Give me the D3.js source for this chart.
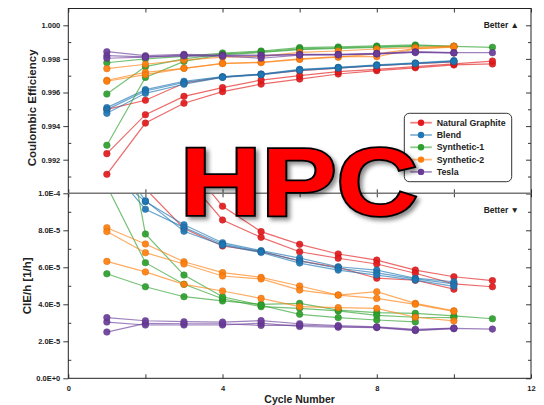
<!DOCTYPE html>
<html>
<head>
<meta charset="utf-8">
<title>Coulombic efficiency and CIE/h</title>
<style>
  body { margin: 0; background: #fff; }
  svg { font-family: "Liberation Sans", Arial, sans-serif; }
  .tick text { font-weight: bold; fill: #222; }
</style>
</head>
<body>
<svg width="544" height="405"></svg>
<script src="https://d3js.org/d3.v7.min.js"></script>
<script>
// ---- data ----
var cycles = [1, 2, 3, 4, 5, 6, 7, 8, 9, 10, 11];
var materials = ["Natural Graphite", "Blend", "Synthetic-1", "Synthetic-2", "Tesla"];
var colors = ["#e31a1c", "#1f77b4", "#2ca02c", "#ff7f0e", "#6a3d9a"];

// coulombic efficiency, one array per cell
var ceNatural = [
  [0.99113, 0.99418, 0.99536, 0.99605, 0.99650, 0.99680, 0.99710, 0.99730, 0.99747, 0.99764, 0.99770],
  [0.99236, 0.99468, 0.99577, 0.99629, 0.99674, 0.99700, 0.99724, 0.99738, 0.99754, 0.99770, 0.99787],
  [0.99500, 0.99554, 0.99655, 0.99692, 0.99708, 0.99730, 0.99745, 0.99760, 0.99772, 0.99782]
];
var ceBlend = [
  [0.99510, 0.99617, 0.99667, 0.99694, 0.99710, 0.99738, 0.99750, 0.99765, 0.99776, 0.99790],
  [0.99498, 0.99609, 0.99660, 0.99692, 0.99708, 0.99735, 0.99748, 0.99762, 0.99774, 0.99787],
  [0.99476, 0.99595, 0.99649, 0.99690, 0.99705, 0.99732, 0.99745, 0.99760, 0.99772, 0.99784]
];
var ceSynth1 = [
  [0.99777, 0.99800, 0.99815, 0.99835, 0.99847, 0.99867, 0.99871, 0.99877, 0.99883, 0.99875, 0.99869],
  [0.99591, 0.99754, 0.99800, 0.99830, 0.99842, 0.99860, 0.99866, 0.99872, 0.99878, 0.99874],
  [0.99286, 0.99690, 0.99785, 0.99825, 0.99838, 0.99855, 0.99862, 0.99868, 0.99875]
];
var ceSynth2 = [
  [0.99742, 0.99768, 0.99793, 0.99810, 0.99815, 0.99839, 0.99847, 0.99859, 0.99867, 0.99877],
  [0.99673, 0.99720, 0.99744, 0.99774, 0.99780, 0.99800, 0.99813, 0.99813, 0.99860, 0.99870],
  [0.99667, 0.99706, 0.99744, 0.99772, 0.99778, 0.99797, 0.99810, 0.99830, 0.99862, 0.99872]
];
var ceTesla = [
  [0.99843, 0.99819, 0.99827, 0.99822, 0.99823, 0.99827, 0.99827, 0.99833, 0.99843, 0.99837, 0.99837],
  [0.99819, 0.99812, 0.99822, 0.99819, 0.99818, 0.99825, 0.99826, 0.99830, 0.99840, 0.99836],
  [0.99804, 0.99810, 0.99818, 0.99816, 0.99804, 0.99822, 0.99824, 0.99830, 0.99838, 0.99835]
];

// CIE/h in units of 1E-5 per hour
var cieNatural = [
  [21.0, 13.9, 11.8, 9.30, 7.93, 7.24, 6.72, 6.39, 5.85, 5.49, 5.28],
  [18.0, 12.7, 11.0, 8.56, 7.62, 6.84, 6.49, 6.18, 5.68, 5.10, 4.95],
  [11.9, 10.25, 8.10, 7.15, 6.85, 6.35, 6.00, 5.41, 5.30, 4.82]
];
var cieBlend = [
  [11.3, 9.55, 8.30, 7.33, 6.90, 6.50, 6.03, 5.85, 5.41, 5.22],
  [11.6, 9.14, 8.16, 7.25, 6.85, 6.35, 5.95, 5.70, 5.37, 5.10],
  [12.5, 9.60, 7.95, 7.20, 6.80, 6.23, 5.85, 5.58, 5.31, 4.97]
];
var cieSynth1 = [
  [5.65, 4.95, 4.41, 4.18, 4.00, 4.05, 3.69, 3.55, 3.51, 3.37, 3.22],
  [10.4, 6.25, 5.08, 4.30, 3.87, 3.78, 3.64, 3.40, 3.30, 3.28],
  [19.0, 7.80, 5.58, 4.41, 3.95, 3.46, 3.28, 3.15, 3.05]
];
var cieSynth2 = [
  [8.14, 7.26, 6.30, 5.71, 5.46, 4.99, 4.50, 4.68, 4.05, 3.65],
  [7.93, 6.79, 6.18, 5.53, 5.37, 4.77, 4.50, 4.32, 4.00, 3.62],
  [6.32, 5.75, 5.08, 4.72, 4.32, 3.87, 3.82, 3.78, 3.30, 3.10]
];
var cieTesla = [
  [2.50, 2.97, 2.95, 2.95, 2.86, 2.87, 2.80, 2.76, 2.60, 2.70, 2.66],
  [3.04, 2.88, 2.88, 2.88, 2.98, 2.80, 2.76, 2.74, 2.58, 2.68],
  [3.28, 3.11, 3.06, 3.04, 3.12, 2.95, 2.85, 2.78, 2.65, 2.72]
];

var ceTicks = [0.992, 0.994, 0.996, 0.998, 1.000];
var ceMinor = [0.991, 0.993, 0.995, 0.997, 0.999, 1.001];
var cieTicks = [0, 2, 4, 6, 8, 10];
var cieTickLabels = ["0.0E+0", "2.0E-5", "4.0E-5", "6.0E-5", "8.0E-5", "1.0E-4"];
var cieMinor = [1, 3, 5, 7, 9];
var xTicks = [0, 2, 4, 6, 8, 10, 12];
var xTickLabels = ["0", "", "4", "", "8", "", "12"];

var ceSets = [ceNatural, ceBlend, ceSynth1, ceSynth2, ceTesla];
var cieSets = [cieNatural, cieBlend, cieSynth1, cieSynth2, cieTesla];

// ---- layout ----
var svg = d3.select("svg");
var left = 68.3, right = 531, top0 = 8.5, mid = 193.3, bottom = 378.3;

var x = d3.scaleLinear().domain([0, 12]).range([left, right]);
var yTop = d3.scaleLinear().domain([0.990, 1.001]).range([mid, top0]);
var yBot = d3.scaleLinear().domain([0, 10]).range([bottom, mid]);

var defs = svg.append("defs");
defs.append("clipPath").attr("id", "clipTop").append("rect")
    .attr("x", left).attr("y", top0).attr("width", right - left).attr("height", mid - top0);
defs.append("clipPath").attr("id", "clipBot").append("rect")
    .attr("x", left).attr("y", mid).attr("width", right - left).attr("height", bottom - mid);
var shadow = defs.append("filter").attr("id", "shadow")
    .attr("x", "-10%").attr("y", "-10%").attr("width", "130%").attr("height", "140%");
shadow.append("feDropShadow").attr("dx", 3).attr("dy", 3).attr("stdDeviation", 2.2)
    .attr("flood-color", "#000").attr("flood-opacity", 0.45);

function drawPanel(sets, y, clipId) {
    var g = svg.append("g").attr("clip-path", "url(#" + clipId + ")");
    var line = d3.line().x(function(d) { return x(d[0]); }).y(function(d) { return y(d[1]); });
    sets.forEach(function(cells, m) {
        cells.forEach(function(vals) {
            var pts = vals.map(function(v, k) { return [cycles[k], v]; });
            g.append("path")
                .attr("d", line(pts))
                .style("fill", "none")
                .style("stroke", colors[m])
                .style("stroke-width", 1.2)
                .style("stroke-opacity", 0.65);
            g.selectAll(null).data(pts).enter().append("circle")
                .attr("cx", function(d) { return x(d[0]); })
                .attr("cy", function(d) { return y(d[1]); })
                .attr("r", 3.3)
                .style("fill", colors[m])
                .style("stroke", d3.color(colors[m]).darker(0.6))
                .style("stroke-width", 0.5)
                .style("opacity", 0.92);
        });
    });
}

drawPanel(ceSets, yTop, "clipTop");
drawPanel(cieSets, yBot, "clipBot");

// ---- axes ----
function styleAxis(g) {
    g.select(".domain").remove();
    g.selectAll(".tick line").style("stroke", "#222").style("stroke-width", 0.9);
}

svg.append("g").attr("transform", "translate(" + left + ",0)")
    .call(d3.axisLeft(yTop).tickValues(ceTicks).tickSize(5).tickPadding(3).tickFormat(d3.format(".3f")))
    .call(styleAxis).selectAll("text").style("font-size", "7.5px");
svg.append("g").attr("transform", "translate(" + left + ",0)")
    .call(d3.axisLeft(yTop).tickValues(ceMinor.filter(function(v) { return v < 1.001; })).tickSize(-3).tickFormat(""))
    .call(styleAxis);
svg.append("g").attr("transform", "translate(" + left + ",0)")
    .call(d3.axisLeft(yBot).tickValues(cieTicks).tickSize(5).tickPadding(3)
        .tickFormat(function(d, i) { return cieTickLabels[i]; }))
    .call(styleAxis).selectAll("text").style("font-size", "7.5px");
svg.append("g").attr("transform", "translate(" + left + ",0)")
    .call(d3.axisLeft(yBot).tickValues(cieMinor).tickSize(-3).tickFormat(""))
    .call(styleAxis);

svg.append("g").attr("transform", "translate(" + right + ",0)")
    .call(d3.axisRight(yTop).tickValues(ceTicks.concat([0.990])).tickSize(-5).tickFormat(""))
    .call(styleAxis);
svg.append("g").attr("transform", "translate(" + right + ",0)")
    .call(d3.axisRight(yTop).tickValues(ceMinor.filter(function(v) { return v < 1.001; })).tickSize(-3).tickFormat(""))
    .call(styleAxis);
svg.append("g").attr("transform", "translate(" + right + ",0)")
    .call(d3.axisRight(yBot).tickValues(cieTicks).tickSize(-5).tickFormat(""))
    .call(styleAxis);
svg.append("g").attr("transform", "translate(" + right + ",0)")
    .call(d3.axisRight(yBot).tickValues(cieMinor).tickSize(-3).tickFormat(""))
    .call(styleAxis);

svg.append("g").attr("transform", "translate(0," + top0 + ")")
    .call(d3.axisTop(x).tickValues(xTicks).tickSize(-4).tickFormat(""))
    .call(styleAxis);
svg.append("g").attr("transform", "translate(0," + mid + ")")
    .call(d3.axisBottom(x).tickValues(xTicks).tickSize(-4).tickFormat(""))
    .call(styleAxis);
svg.append("g").attr("transform", "translate(0," + mid + ")")
    .call(d3.axisTop(x).tickValues(xTicks).tickSize(-4).tickFormat(""))
    .call(styleAxis);
svg.append("g").attr("transform", "translate(0," + bottom + ")")
    .call(d3.axisBottom(x).tickValues(xTicks).tickSize(-4).tickPadding(7)
        .tickFormat(function(d, i) { return xTickLabels[i]; }))
    .call(styleAxis).selectAll("text").style("font-size", "7.5px");

// frame and divider
svg.append("rect").attr("x", left).attr("y", top0).attr("width", right - left).attr("height", bottom - top0)
    .style("fill", "none").style("stroke", "#222").style("stroke-width", 1);
svg.append("line").attr("x1", left).attr("x2", right).attr("y1", mid).attr("y2", mid)
    .style("stroke", "#777").style("stroke-width", 1.6);

// titles
svg.append("text").attr("transform", "translate(36," + ((top0 + mid) / 2 + 7) + ") rotate(-90)")
    .attr("text-anchor", "middle").style("font-size", "11.5px").style("font-weight", "bold").style("fill", "#222")
    .text("Coulombic Efficiency");
svg.append("text").attr("transform", "translate(31," + ((mid + bottom) / 2) + ") rotate(-90)")
    .attr("text-anchor", "middle").style("font-size", "11.5px").style("font-weight", "bold").style("fill", "#222")
    .text("CIE/h [1/h]");
svg.append("text").attr("x", (left + right) / 2).attr("y", 403)
    .attr("text-anchor", "middle").style("font-size", "10.5px").style("font-weight", "bold").style("fill", "#222")
    .text("Cycle Number");

svg.append("text").attr("x", 519).attr("y", yTop(1.000) + 3)
    .attr("text-anchor", "end").style("font-size", "8.5px").style("font-weight", "bold").style("fill", "#222")
    .text("Better \u25B2");
svg.append("text").attr("x", 519).attr("y", 213)
    .attr("text-anchor", "end").style("font-size", "8.5px").style("font-weight", "bold").style("fill", "#222")
    .text("Better \u25BC");

// legend
var lg = svg.append("g").attr("transform", "translate(404.3,113.3)");
lg.append("rect").attr("width", 107.4).attr("height", 68.4).attr("rx", 5)
    .style("fill", "#fff").style("stroke", "#333").style("stroke-width", 1);
materials.forEach(function(name, i) {
    var yy = 9.4 + i * 12.3;
    lg.append("line").attr("x1", 6).attr("x2", 27.5).attr("y1", yy).attr("y2", yy)
        .style("stroke", colors[i]).style("stroke-width", 1.8).style("stroke-opacity", 0.55);
    lg.append("circle").attr("cx", 16.7).attr("cy", yy).attr("r", 3.2).style("fill", colors[i]);
    lg.append("text").attr("x", 32.4).attr("y", yy + 3.1)
        .style("font-size", "8.8px").style("font-weight", "bold").style("fill", "#222").text(name);
});

// watermark
svg.append("text").attr("x", 299).attr("y", 215)
    .attr("text-anchor", "middle")
    .attr("textLength", 238).attr("lengthAdjust", "spacingAndGlyphs")
    .style("font-size", "97px").style("font-weight", "bold")
    .style("fill", "#ff0000").style("stroke", "#000").style("stroke-width", 3.5)
    .style("paint-order", "stroke").style("stroke-linejoin", "miter")
    .attr("filter", "url(#shadow)")
    .text("HPC");
</script>
</body>
</html>
